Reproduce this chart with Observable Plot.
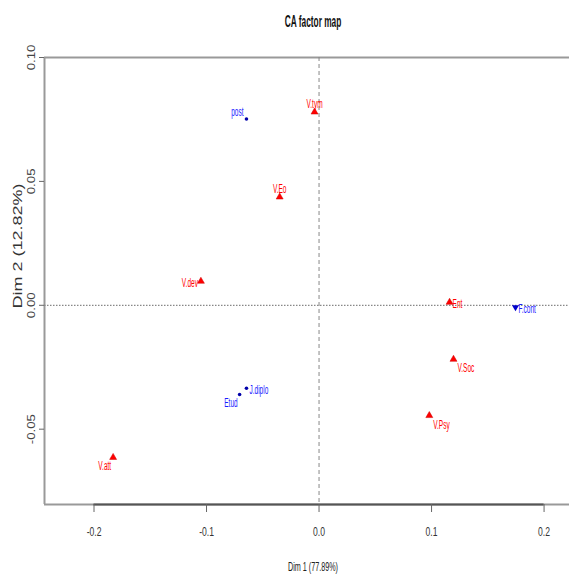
<!DOCTYPE html>
<html><head><meta charset="utf-8">
<script src="https://cdn.jsdelivr.net/npm/d3@7"></script>
<script src="https://cdn.jsdelivr.net/npm/@observablehq/plot@0.6"></script>
<style>body{margin:0;background:#fff;overflow:hidden}</style>
</head><body><div id="chart"></div>
<script>
// Column categories (red triangles)
const colNames = ["V.tym", "V.Eo", "V.dev", "Ent", "V.Soc", "V.Psy", "V.att"];
const colDim1 = [-0.004, -0.035, -0.105, 0.116, 0.1195, 0.098, -0.183];
const colDim2 = [0.078, 0.0437, 0.0097, 0.0012, -0.0218, -0.0445, -0.0614];
// Row categories (blue)
const rowNames = ["post", "J.diplo", "Etud", "F.cont"];
const rowDim1 = [-0.0645, -0.0645, -0.0706, 0.1746];
const rowDim2 = [0.0752, -0.0335, -0.036, -0.0008];

const xTicks = [-0.2, -0.1, 0, 0.1, 0.2];
const xTickLabels = ["-0.2", "-0.1", "0.0", "0.1", "0.2"];
const yTicks = [-0.05, 0, 0.05, 0.10];
const yTickLabels = ["-0.05", "0.00", "0.05", "0.10"];
const xDomain = [-0.244, 0.2226];
const yDomain = [-0.0804, 0.10];

const titleText = "CA factor map";
const xTitle = "Dim 1 (77.89%)";
const yTitle = "Dim 2 (12.82%)";

// label placement around each point (layout only)
const placement = {
  "V.tym": "top", "V.Eo": "top", "V.dev": "left", "Ent": "right", "V.Soc": "belowright",
  "V.Psy": "belowright", "V.att": "belowleft", "post": "aboveleft", "J.diplo": "right",
  "Etud": "belowleft", "F.cont": "right"
};
const placeOpts = {
  top: {dx: 0, dy: -8, textAnchor: "middle"},
  left: {dx: -3, dy: 2, textAnchor: "end"},
  right: {dx: 3, dy: 1.5, textAnchor: "start"},
  belowright: {dx: 4, dy: 9, textAnchor: "start"},
  belowleft: {dx: -2, dy: 8.5, textAnchor: "end"},
  aboveleft: {dx: -3, dy: -7, textAnchor: "end"}
};

const cols = colNames.map((n, i) => ({name: n, d1: colDim1[i], d2: colDim2[i]}));
const rows = rowNames.map((n, i) => ({name: n, d1: rowDim1[i], d2: rowDim2[i], down: n === "F.cont"}));

const font = "'Liberation Sans', Arial, sans-serif";
const labelMarks = [];
for (const [key, o] of Object.entries(placeOpts)) {
  labelMarks.push(Plot.text(cols.filter(d => placement[d.name] === key), {
    x: "d1", y: "d2", text: "name", fill: "#ff0000", fontSize: 12.5, ...o, className: "ptlab"
  }));
  labelMarks.push(Plot.text(rows.filter(d => placement[d.name] === key), {
    x: "d1", y: "d2", text: "name", fill: "#1a1aff", fontSize: 12.5, ...o, className: "ptlab"
  }));
}

const svg = Plot.plot({
  width: 569, height: 574,
  marginLeft: 44, marginRight: 0, marginTop: 57, marginBottom: 70,
  style: {fontFamily: font, background: "#fff"},
  x: {domain: xDomain},
  y: {domain: yDomain},
  marks: [
    // frame (top, bottom, left; right side runs off the picture)
    Plot.ruleY([yDomain[1]], {stroke: "#999", strokeWidth: 2.2}),
    Plot.ruleY([yDomain[0]], {stroke: "#999", strokeWidth: 2.2}),
    Plot.ruleX([xDomain[0]], {stroke: "#999", strokeWidth: 2}),
    Plot.ruleY([yDomain[0]], {x1: xTicks[0], x2: xTicks[xTicks.length - 1], stroke: "#555", strokeWidth: 2.2}),
    // reference lines
    Plot.ruleX([0], {stroke: "#888", strokeDasharray: "4,3", strokeWidth: 1}),
    Plot.ruleY([0], {stroke: "#888", strokeDasharray: "1.5,1.5", strokeWidth: 1.2}),
    // axes
    Plot.axisX({ticks: xTicks, tickSize: 8, tickPadding: 14, fontSize: 13, stroke: "#666", fill: "#333",
      tickFormat: d => xTickLabels[xTicks.indexOf(d)], label: null, className: "xt"}),
    Plot.axisY({ticks: yTicks, tickSize: 5, tickFormat: () => "", stroke: "#666", label: null}),
    Plot.text(yTicks, {x: () => xDomain[0], y: d => d, text: (d, i) => yTickLabels[i], rotate: -90,
      dx: -13, fontSize: 11.5, fill: "#444", className: "yt"}),
    // titles
    Plot.text([titleText], {frameAnchor: "top", lineAnchor: "middle", textAnchor: "middle", dx: 6, dy: -36,
      fontSize: 16, fontWeight: "bold", fill: "#111", className: "ttl"}),
    Plot.text([xTitle], {frameAnchor: "bottom", lineAnchor: "middle", textAnchor: "middle", dx: 6, dy: 63,
      fontSize: 12, fill: "#222", className: "xttl"}),
    Plot.text([yTitle], {frameAnchor: "left", lineAnchor: "middle", textAnchor: "middle", dx: -26, dy: -35,
      rotate: -90, fontSize: 12, fill: "#333", className: "yttl"}),
    // points
    Plot.dot(cols, {x: "d1", y: "d2", symbol: "triangle", r: 2.6, fill: "#ff0000", stroke: "#cc0000", strokeWidth: 0.5}),
    Plot.dot(rows.filter(d => !d.down), {x: "d1", y: "d2", symbol: "circle", r: 1.8, fill: "#0000aa"}),
    Plot.dot(rows.filter(d => d.down), {x: "d1", y: "d2", symbol: "triangle", rotate: 180, r: 2.6, fill: "#0000cc"}),
    ...labelMarks
  ]
});
document.getElementById("chart").append(svg);

// squeeze/stretch text along its own direction, keeping its anchor point
function squeeze(sel, f) {
  svg.querySelectorAll(sel).forEach(t => {
    const L = t.getComputedTextLength();
    if (!(L > 0)) return;
    const nl = L * f;
    const anchor = getComputedStyle(t).textAnchor;
    const shift = anchor === "middle" ? -nl / 2 : anchor === "end" ? -nl : 0;
    t.style.textAnchor = "start";
    const prev = parseFloat(t.getAttribute("dx") || "0");
    t.setAttribute("dx", (prev + shift).toFixed(2));
    t.setAttribute("textLength", nl.toFixed(2));
    t.setAttribute("lengthAdjust", "spacingAndGlyphs");
  });
}
squeeze(".ttl text", 0.52);
squeeze(".xt text", 0.66);
squeeze(".xttl text", 0.6);
squeeze(".ptlab text", 0.52);
squeeze(".yt text", 1.15);
squeeze(".yttl text", 1.5);
</script>
</body></html>
